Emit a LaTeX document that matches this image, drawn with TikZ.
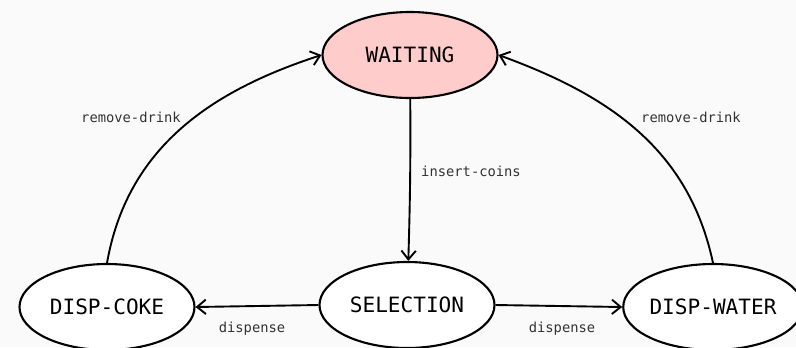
\documentclass[tikz,border=0pt]{standalone}
\usepackage{fontspec}
\setmonofont{DejaVu Sans Mono}
\usepackage{xcolor}
\usepackage{tikz}
\usetikzlibrary{arrows.meta}
\usetikzlibrary{shapes.geometric, calc}
\definecolor{pinkfill}{HTML}{FFCCCC}
\definecolor{bgcol}{HTML}{FAFAFA}
\definecolor{labelcol}{HTML}{333333}

\begin{document}
\begin{tikzpicture}[
    state/.style={ellipse, draw=black, line width=1.5pt, fill=white,
      minimum width=4.375cm, minimum height=2.15cm, inner sep=0pt,
      font=\ttfamily\fontsize{15}{18}\selectfont},
    trans/.style={line width=1.35pt, -{Straight Barb[length=2.2mm, width=3.6mm]}},
    lbl/.style={font=\ttfamily\fontsize{9.8}{12}\selectfont, text=labelcol}]
    % Fond
    \fill[bgcol] (0,0) rectangle (19.9,-8.675);
    \useasboundingbox (0,0) rectangle (19.9,-8.675);
    \clip (0,0) rectangle (19.9,-8.675);

    % Etats
    \node[state, fill=pinkfill] (waiting) at (10.25,-1.375) {WAITING};
    \node[state] (selection) at (10.175,-7.625) {SELECTION};
    \node[state] (coke) at (2.675,-7.675) {DISP-COKE};
    \node[state] (water) at (17.825,-7.675) {DISP-WATER};

    % Transitions
    \draw[trans] (waiting) to[bend left=1] (selection);
    \draw[trans] (selection.west) -- (coke.east);
    \draw[trans] (selection.east) -- (water.west);
    \draw[trans] (coke.north) to[out=80, in=198] (waiting.west);
    \draw[trans] (water.north) to[out=102, in=-20] (waiting.east);

    % Etiquettes des transitions
    \node[lbl] (lcoins) at (11.775,-4.275) {insert-coins};
    \node[lbl] (ldispcoke) at (6.3,-8.225) {dispense};
    \node[lbl] (ldispwater) at (14.05,-8.225) {dispense};
    \node[lbl] (lremcoke) at (3.275,-2.925) {remove-drink};
    \node[lbl] (lremwater) at (17.275,-2.925) {remove-drink};

\end{tikzpicture}
\end{document}
